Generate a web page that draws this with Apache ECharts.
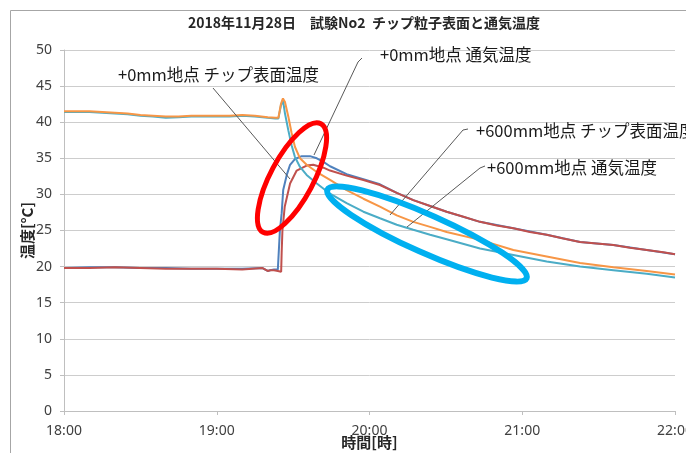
<!DOCTYPE html>
<html>
<head>
<meta charset="utf-8">
<script src="https://cdn.jsdelivr.net/npm/echarts@6/dist/echarts.min.js"></script>
<style>
  html, body { margin: 0; padding: 0; background: #ffffff; }
  #chart { width: 686px; height: 453px; }
</style>
</head>
<body>
<div id="chart"></div>
<script>
// Time is measured in minutes after 18:00.
const hourLabels = ['18:00', '19:00', '20:00', '21:00', '22:00'];

// +0mm地点 通気温度
const air0Time = [0, 10, 20, 30, 40, 50, 60, 70, 78, 80, 81, 82.5, 84, 84.6, 84.8, 85.5, 86.1, 87.5, 88.8, 90.7, 93.4, 96.6, 99.3, 101.9, 104.5, 111, 117.6, 124.1, 130.7, 137.2, 150.3, 163.4, 176.5, 189.6, 202.7, 215.8, 228.9, 240];
const air0Temp = [19.8, 19.9, 19.9, 19.8, 19.8, 19.7, 19.7, 19.7, 19.8, 19.4, 19.5, 19.6, 19.6, 19.6, 25.0, 27.4, 30.6, 32.7, 34.1, 34.9, 35.3, 35.3, 35.0, 34.5, 33.9, 32.8, 32.1, 31.4, 30.2, 29.2, 27.6, 26.2, 25.3, 24.4, 23.4, 23.0, 22.3, 21.7];

// +0mm地点 チップ表面温度
const chip0Time = [0, 10, 20, 30, 40, 50, 60, 70, 78, 80, 81, 82.5, 84, 85.3, 85.5, 85.8, 86.7, 88.8, 91.4, 95.3, 97.9, 101.9, 104.5, 111, 117.6, 124.1, 130.7, 137.2, 143.8, 150.3, 156.9, 163.4, 170, 176.5, 183, 189.6, 196.1, 202.7, 209.2, 215.8, 222.3, 228.9, 235.4, 240];
const chip0Temp = [19.8, 19.8, 19.9, 19.8, 19.7, 19.7, 19.7, 19.6, 19.8, 19.4, 19.5, 19.5, 19.4, 19.3, 22.0, 25.0, 28.3, 31.5, 33.3, 34.0, 34.1, 33.7, 33.3, 32.6, 32.0, 31.3, 30.2, 29.2, 28.4, 27.6, 26.9, 26.2, 25.7, 25.3, 24.8, 24.4, 23.9, 23.4, 23.2, 23.0, 22.6, 22.3, 22.0, 21.7];

// +600mm地点 チップ表面温度
const chip600Time = [0, 5, 10, 15, 20, 25, 30, 35, 40, 45, 50, 55, 60, 65, 70, 75, 80, 83, 84.2, 85.2, 86.0, 86.8, 88.1, 89.4, 90.7, 92.7, 95.3, 99.3, 104.5, 111, 117.6, 124.1, 130.7, 137.2, 143.8, 150.3, 163.4, 176.5, 189.6, 202.7, 215.8, 228.9, 240];
const chip600Temp = [41.5, 41.5, 41.5, 41.4, 41.3, 41.2, 41.0, 40.9, 40.8, 40.8, 40.9, 40.9, 40.9, 40.9, 41.0, 40.9, 40.7, 40.6, 40.6, 42.5, 43.3, 42.8, 40.8, 38.5, 36.6, 35.0, 34.1, 33.1, 32.0, 30.6, 29.4, 28.3, 27.1, 26.2, 25.5, 24.8, 23.7, 22.3, 21.4, 20.5, 19.9, 19.4, 18.9];

// +600mm地点 通気温度
const air600Time = [0, 5, 10, 15, 20, 25, 30, 35, 40, 45, 50, 55, 60, 65, 70, 75, 80, 83, 84.2, 85.2, 86.0, 86.8, 88.1, 89.4, 90.7, 92.7, 95.3, 99.3, 104.5, 111, 117.6, 124.1, 130.7, 137.2, 143.8, 150.3, 163.4, 176.5, 189.6, 202.7, 215.8, 228.9, 240];
const air600Temp = [41.4, 41.4, 41.4, 41.3, 41.2, 41.1, 40.9, 40.8, 40.6, 40.7, 40.8, 40.8, 40.8, 40.8, 40.9, 40.8, 40.6, 40.5, 40.5, 42.3, 43.1, 41.2, 38.9, 36.8, 35.2, 33.8, 32.7, 31.5, 30.1, 28.8, 27.6, 26.7, 25.8, 25.1, 24.4, 23.8, 22.5, 21.6, 20.7, 20.0, 19.5, 19.0, 18.5];

const pairs = (t, v) => t.map((x, i) => [x, v[i]]);

const cjk = '"Noto Sans CJK JP", "Noto Sans", sans-serif';
const latin = '"Noto Sans", "Liberation Sans", sans-serif';

function lineSeries(name, color, t, v) {
  return {
    name: name,
    type: 'line',
    data: pairs(t, v),
    showSymbol: false,
    symbol: 'none',
    smooth: false,
    lineStyle: { color: color, width: 2 },
    itemStyle: { color: color },
    silent: true,
    animation: false
  };
}

function note(text, x, y) {
  return {
    type: 'text', x: x, y: y, z: 100,
    style: { text: text, fill: '#1a1a1a', font: '16.5px ' + cjk, verticalAlign: 'middle' }
  };
}
function leader(points) {
  return {
    type: 'polyline', z: 99,
    shape: { points: points },
    style: { stroke: '#595959', lineWidth: 1, fill: null }
  };
}

const chart = echarts.init(document.getElementById('chart'), null, { renderer: 'canvas' });
chart.setOption({
  animation: false,
  backgroundColor: '#ffffff',
  title: {
    text: '2018年11月28日　試験No2  チップ粒子表面と通気温度',
    left: 359, top: 11, textAlign: 'center',
    textStyle: { fontFamily: cjk, fontSize: 14, fontWeight: 'bold', color: '#262626' }
  },
  grid: { left: 64, right: 11, top: 50, bottom: 42, containLabel: false, outerBoundsMode: 'none' },
  xAxis: {
    type: 'value', min: 0, max: 240, interval: 60,
    name: '時間[時]', nameLocation: 'middle', nameGap: 24, nameMoveOverlap: false,
    nameTextStyle: { fontFamily: cjk, fontSize: 15, fontWeight: 'bold', color: '#262626' },
    axisLine: { show: true, lineStyle: { color: '#BFBFBF', width: 1 } },
    axisTick: { show: true, length: 4, lineStyle: { color: '#BFBFBF' } },
    axisLabel: {
      margin: 13, fontFamily: latin, fontSize: 14, color: '#404040',
      formatter: v => hourLabels[Math.round(v / 60)]
    },
    splitLine: { show: false }
  },
  yAxis: {
    type: 'value', min: 0, max: 50, interval: 5,
    name: '温度[°C]', nameLocation: 'middle', nameGap: 29, nameRotate: 90, nameMoveOverlap: false,
    nameTextStyle: { fontFamily: cjk, fontSize: 15, fontWeight: 'bold', color: '#262626' },
    axisLine: { show: true, lineStyle: { color: '#BFBFBF', width: 1 } },
    axisTick: { show: true, length: 4, lineStyle: { color: '#BFBFBF' } },
    axisLabel: { margin: 12, fontFamily: latin, fontSize: 14, color: '#404040' },
    splitLine: { show: true, lineStyle: { color: '#CDCDCD', width: 1 } }
  },
  series: [
    lineSeries('+0mm地点 通気温度', '#4F81BD', air0Time, air0Temp),
    lineSeries('+0mm地点 チップ表面温度', '#C0504D', chip0Time, chip0Temp),
    lineSeries('+600mm地点 通気温度', '#4BACC6', air600Time, air600Temp),
    lineSeries('+600mm地点 チップ表面温度', '#F79646', chip600Time, chip600Temp)
  ],
  graphic: [
    // chart area frame
    { type: 'rect', z: 1, shape: { x: 10.5, y: 10.5, width: 720, height: 480 },
      style: { fill: null, stroke: '#A6A6A6', lineWidth: 1 } },
    // highlight rings
    { type: 'ellipse', z: 110, x: 292, y: 178, rotation: 62 * Math.PI / 180,
      shape: { cx: 0, cy: 0, rx: 61.5, ry: 21.5 },
      style: { fill: null, stroke: '#FF0000', lineWidth: 5 } },
    { type: 'ellipse', z: 110, x: 427, y: 234, rotation: -24 * Math.PI / 180,
      shape: { cx: 0, cy: 0, rx: 109, ry: 19 },
      style: { fill: null, stroke: '#00B0F0', lineWidth: 6 } },
    // callouts
    note('+0mm地点 チップ表面温度', 118, 75),
    leader([[213, 88], [290, 179]]),
    note('+0mm地点 通気温度', 380, 55),
    leader([[362, 58], [358, 62], [314, 155]]),
    note('+600mm地点 チップ表面温度', 476, 131),
    leader([[468, 129], [463, 130], [390, 215]]),
    note('+600mm地点 通気温度', 487, 168),
    leader([[485, 166], [480, 168], [407, 227]])
  ]
});
</script>
</body>
</html>
